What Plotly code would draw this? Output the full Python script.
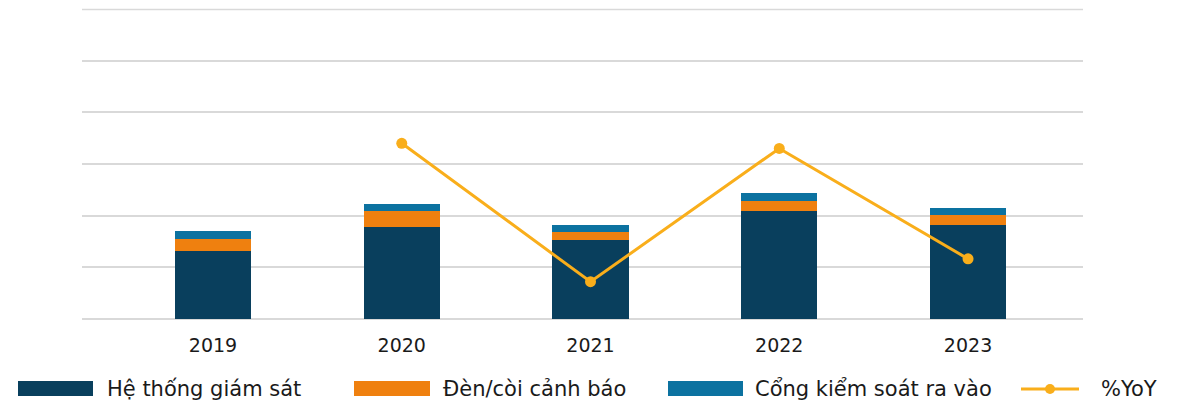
import plotly.graph_objects as go

# ---- data ----
years = ["2019", "2020", "2021", "2022", "2023"]
he_thong_giam_sat = [1.32, 1.78, 1.53, 2.09, 1.82]
den_coi_canh_bao = [0.23, 0.31, 0.155, 0.19, 0.19]
cong_kiem_soat = [0.155, 0.135, 0.135, 0.155, 0.135]
yoy_pct = [None, 31.0, -18.0, 29.2, -9.9]

series_names = ["Hệ thống giám sát", "Đèn/còi cảnh báo", "Cổng kiểm soát ra vào", "%YoY"]
colors = ["#093F5D", "#EF800F", "#0C72A0", "#F9AE1B"]

OFF = 8  # default page body margin
W, H = 1177 - OFF, 401 - OFF
# plot area in page pixels: x 82..1083, y 9..319
PX0, PX1, PY0, PY1 = 82, 1083, 9, 319
ML, MT = PX0 - OFF, PY0 - OFF
MR, MB = W - (PX1 - OFF), H - (PY1 - OFF)
PW, PH = PX1 - PX0, PY1 - PY0

FONT = "DejaVu Sans"

def px_x(px):
    return (px - PX0) / PW

def px_y(py):
    return (PY1 - py) / PH

x = list(range(len(years)))

fig = go.Figure()
for vals, name, col in zip([he_thong_giam_sat, den_coi_canh_bao, cong_kiem_soat],
                           series_names[:3], colors[:3]):
    fig.add_trace(go.Bar(x=x, y=vals, name=name, marker_color=col,
                         marker_line_width=0, width=0.403, showlegend=False))

fig.add_trace(go.Scatter(x=x, y=yoy_pct, name=series_names[3], yaxis="y2",
                         mode="lines+markers", line=dict(color=colors[3], width=3),
                         marker=dict(size=11, color=colors[3]), showlegend=False,
                         connectgaps=False))

shapes = [dict(type="line", xref="paper", yref="paper", x0=0, x1=1,
               y0=px_y(9.5), y1=px_y(9.5),
               line=dict(color="#D9D9D9", width=1.5), layer="below")]
annotations = []
legend_items = [
    (18, 93, 105, "bar"),
    (354, 430, 441, "bar"),
    (668, 743, 753, "bar"),
    (1021, 1079, 1099, "line"),
]
ly = 389
for (x0, x1, tx, kind), name, col in zip(legend_items, series_names, colors):
    if kind == "bar":
        shapes.append(dict(type="rect", xref="paper", yref="paper",
                           x0=px_x(x0), x1=px_x(x1), y0=px_y(396), y1=px_y(381),
                           fillcolor=col, line_width=0))
    else:
        shapes.append(dict(type="line", xref="paper", yref="paper",
                           x0=px_x(x0), x1=px_x(x1), y0=px_y(ly), y1=px_y(ly),
                           line=dict(color=col, width=3)))
        shapes.append(dict(type="circle", xref="paper", yref="paper",
                           x0=px_x((x0 + x1) / 2 - 5), x1=px_x((x0 + x1) / 2 + 5),
                           y0=px_y(ly + 5), y1=px_y(ly - 5),
                           fillcolor=col, line_width=0))
    annotations.append(dict(text=name, xref="paper", yref="paper",
                            x=px_x(tx), y=px_y(ly), xanchor="left", yanchor="middle",
                            showarrow=False, font=dict(family=FONT, size=21, color="#1a1a1a")))

fig.update_layout(
    width=W, height=H,
    margin=dict(l=ML, r=MR, t=MT, b=MB, pad=0),
    barmode="stack",
    plot_bgcolor="white", paper_bgcolor="white",
    font=dict(family=FONT, size=19, color="#1a1a1a"),
    xaxis=dict(tickmode="array", tickvals=x, ticktext=years,
               range=[-0.694, 4.609], showgrid=False, zeroline=False,
               showline=False, ticks="", ticklabelstandoff=13,
               tickfont=dict(size=19, color="#1a1a1a")),
    yaxis=dict(range=[0, 6], dtick=1, showgrid=True, gridcolor="#D9D9D9",
               gridwidth=1.5, zeroline=True, zerolinecolor="#D9D9D9",
               zerolinewidth=1.5, showticklabels=False, ticks=""),
    yaxis2=dict(range=[-31.2, 78.56], overlaying="y", side="right",
                showgrid=False, zeroline=False, showticklabels=False, ticks=""),
    shapes=shapes,
    annotations=annotations,
    showlegend=False,
)

fig.write_html("out.html")
